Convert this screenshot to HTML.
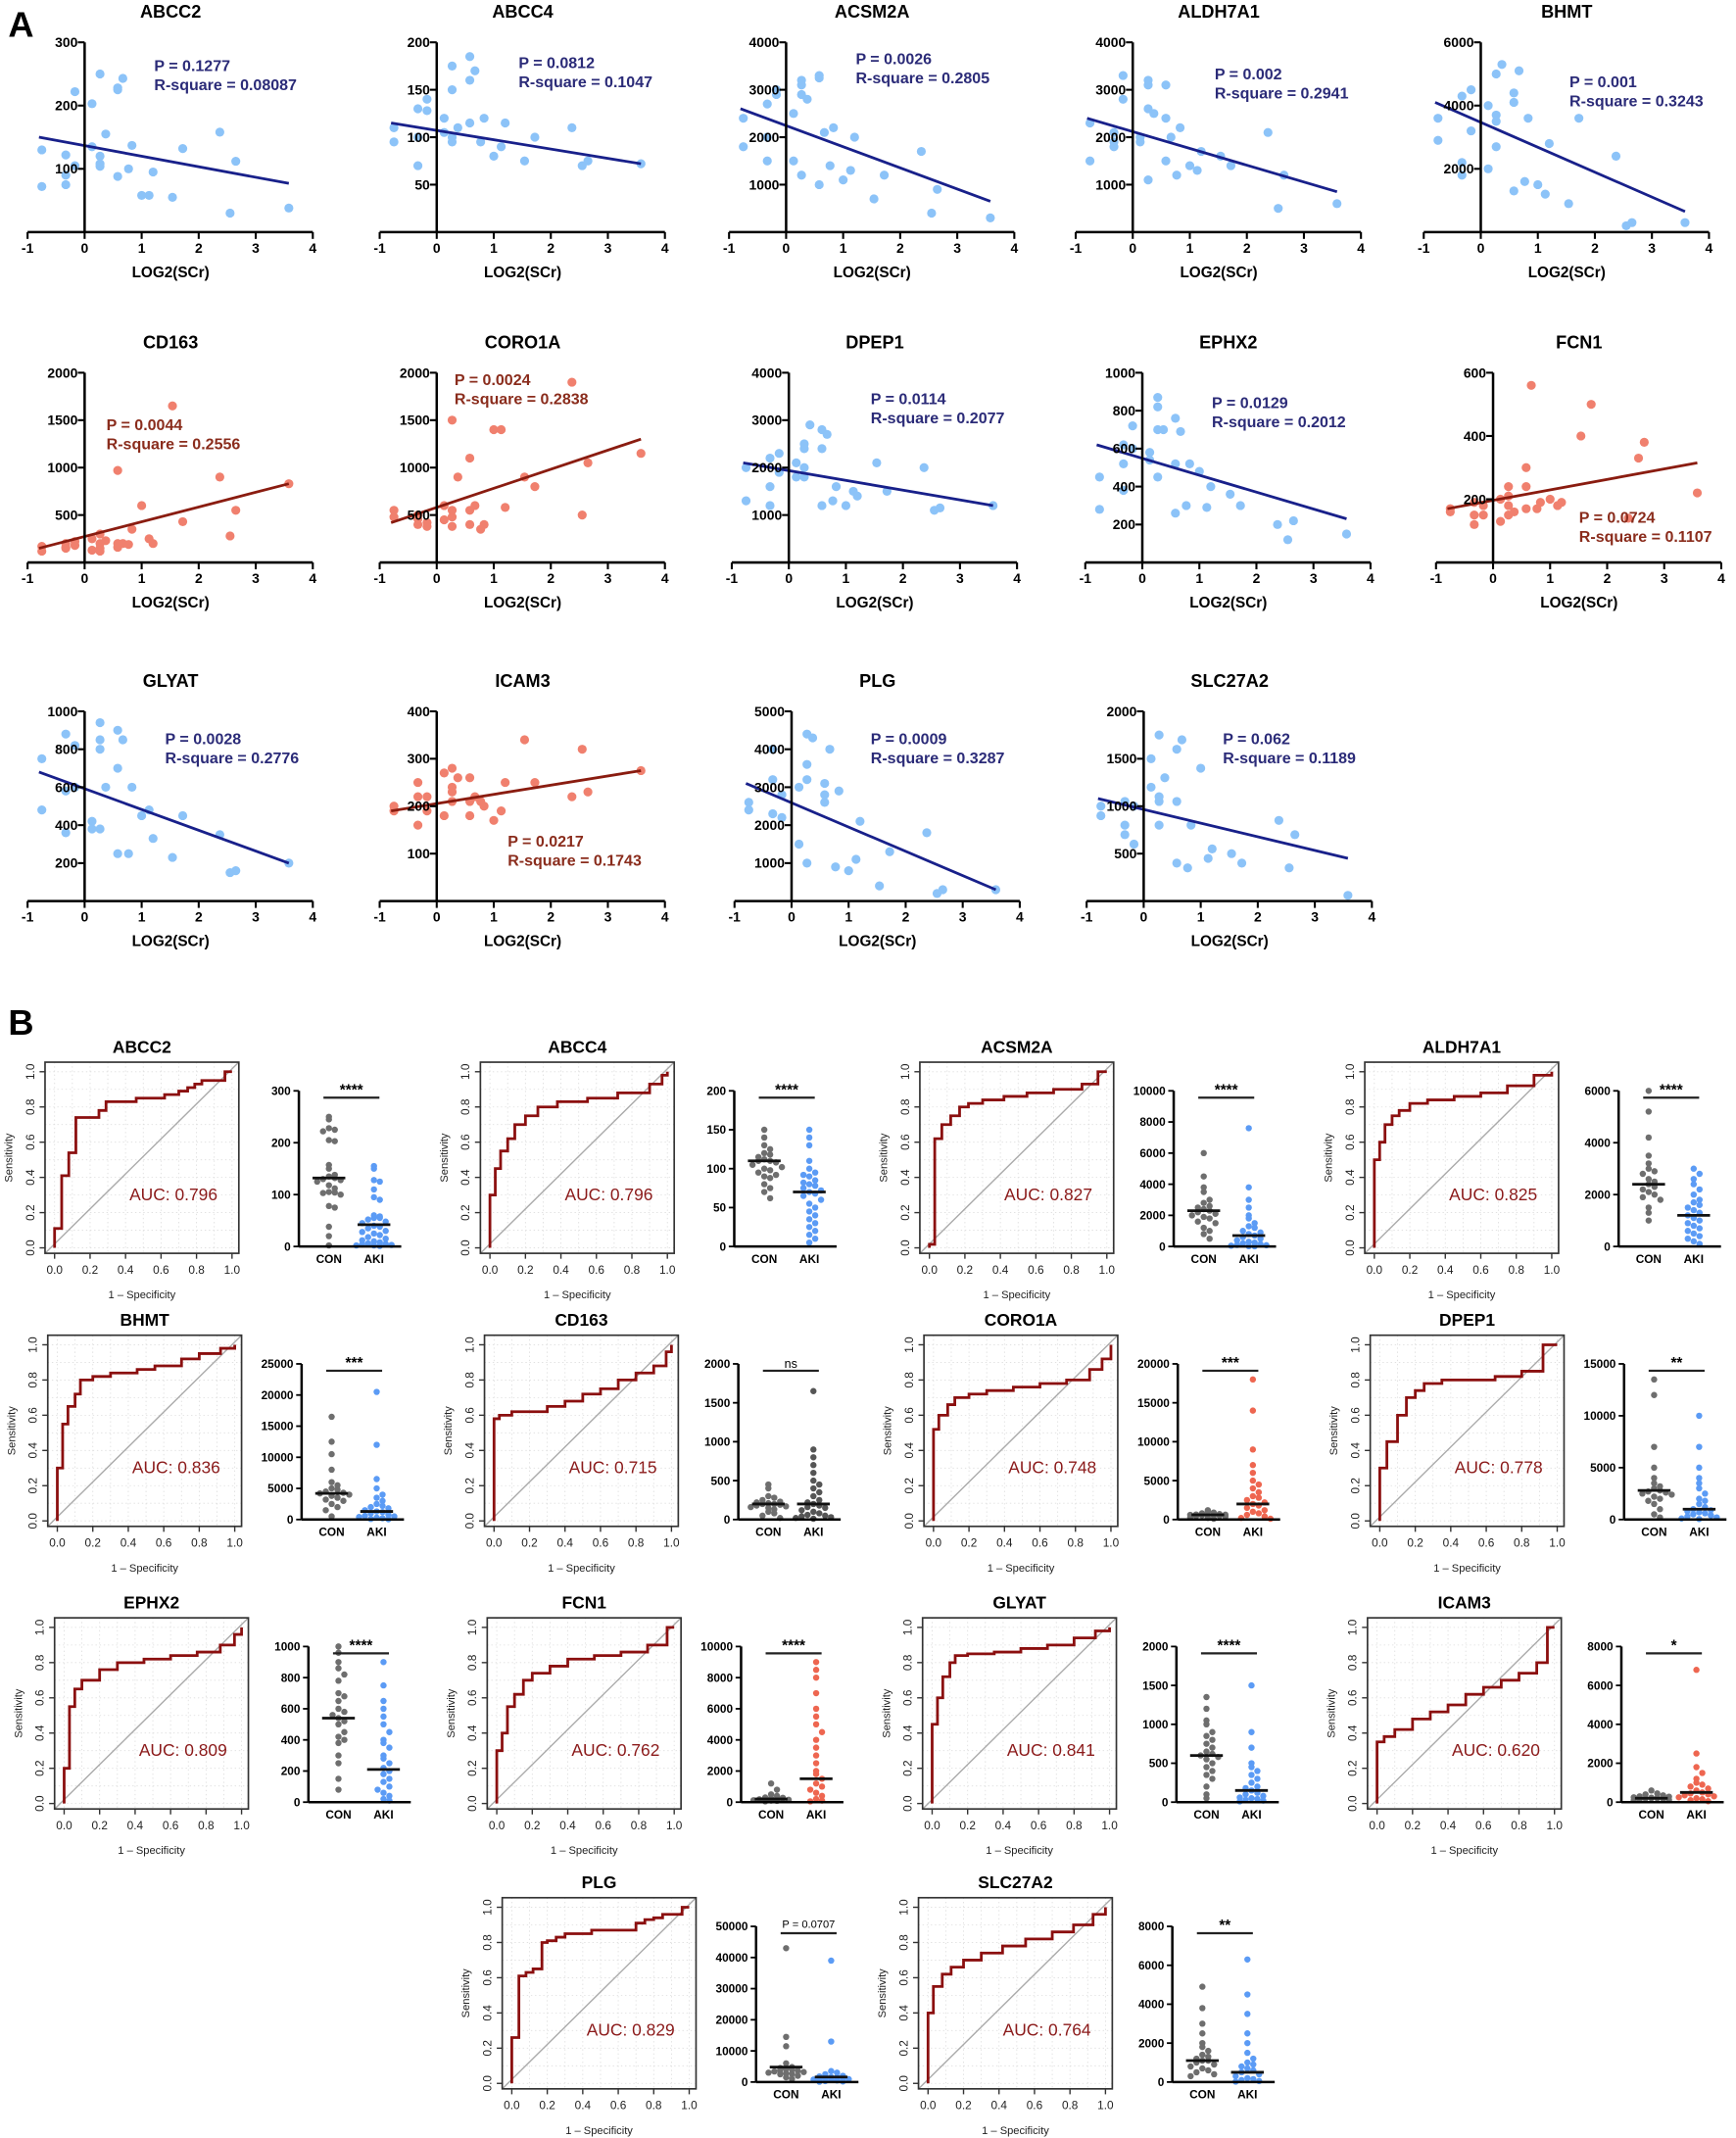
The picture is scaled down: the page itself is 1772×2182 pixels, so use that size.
<!DOCTYPE html>
<html><head><meta charset="utf-8">
<style>
html,body{margin:0;padding:0;background:#fff;}
svg{display:block;font-family:"Liberation Sans",Arial,sans-serif;}
</style></head>
<body>
<svg id="fig" width="1772" height="2182" viewBox="0 0 1272 1566" preserveAspectRatio="none" xmlns="http://www.w3.org/2000/svg"></svg>
<script>
// ---------- Panel A data ----------
const scGenes=["ABCC2","ABCC4","ACSM2A","ALDH7A1","BHMT","CD163","CORO1A","DPEP1","EPHX2","FCN1","GLYAT","ICAM3","PLG","SLC27A2"];
const scX=[-0.75,-0.75,-0.33,-0.33,-0.33,-0.17,-0.17,0.13,0.13,0.27,0.27,0.27,0.27,0.37,0.58,0.58,0.58,0.67,0.77,0.83,1.0,1.13,1.2,1.54,1.72,2.37,2.55,2.65,3.58];
const scYmax=[300,200,4000,4000,6000,2000,2000,4000,1000,600,1000,400,5000,2000];
const scTicks=[[100,200,300],[50,100,150,200],[1000,2000,3000,4000],[1000,2000,3000,4000],[2000,4000,6000],[500,1000,1500,2000],[500,1000,1500,2000],[1000,2000,3000,4000],[200,400,600,800,1000],[200,400,600],[200,400,600,800,1000],[100,200,300,400],[1000,2000,3000,4000,5000],[500,1000,1500,2000]];
const scXTicks=[-1,0,1,2,3,4];
const scY=[
[130,72,122,90,75,105,222,203,135,120,108,104,250,155,88,228,225,243,100,137,58,58,95,55,132,158,30,112,38],
[110,95,130,70,100,140,128,120,105,150,100,95,175,110,115,160,185,170,95,120,80,90,115,75,100,110,70,75,72],
[2400,1800,2000,1500,2700,3000,2900,1500,2500,3100,2900,1200,3200,2800,1000,3300,3250,2100,1400,2200,1100,1300,2000,700,1200,1700,400,900,300],
[2300,1500,2100,1800,1900,3300,2800,2000,1900,3100,2600,1100,3200,2500,1500,3100,2400,2000,1200,2200,1400,1300,1700,1600,1400,2100,500,1200,600],
[3600,2900,4300,2200,1800,4500,3200,4000,2000,3500,3700,2700,5000,5300,1300,4400,4100,5100,1600,3600,1500,1200,2800,900,3600,2400,200,300,300],
[170,120,150,200,160,220,180,250,130,200,150,120,300,230,200,970,160,200,190,350,600,250,200,1650,430,900,280,550,830],
[480,550,460,500,400,420,380,600,450,550,480,380,1500,900,550,1100,400,600,350,400,1400,1400,580,900,800,1900,500,1050,1150],
[1300,2000,2200,1600,1200,1900,2300,1800,2100,2400,2500,2000,1800,2900,2400,2800,1200,2700,1300,1600,1200,1500,1400,2100,1500,2000,1100,1150,1200],
[450,280,620,380,520,720,600,580,540,820,700,450,870,700,260,760,520,690,300,520,480,290,400,360,300,200,120,220,150],
[170,160,150,120,190,180,150,200,130,240,210,150,180,160,170,240,300,560,170,190,200,180,190,400,500,140,330,380,220],
[750,480,880,580,360,820,600,420,380,800,850,380,940,600,250,900,700,850,250,600,450,480,330,230,450,350,150,160,200],
[190,200,160,220,250,190,220,270,180,210,230,240,280,260,180,260,210,220,210,200,170,190,250,340,250,220,320,230,275],
[2600,2400,4000,3200,2300,2800,2200,3000,1500,3600,3200,1000,4400,4300,2600,2800,3100,4000,900,2900,800,1100,2100,400,1300,1800,200,300,300],
[1000,900,1050,800,700,600,1000,1500,1200,800,1050,1100,1750,1300,400,1600,1050,1700,350,800,1400,450,550,500,400,850,350,700,60]];
const scFitX=[-0.8,3.58];
const scFitStart=[150,115,2600,2400,4100,150,420,2100,620,170,680,190,3100,1080];
const scFitEnd=[77,72,650,850,650,830,1300,1200,230,315,200,275,300,450];
const scColor=["b","b","b","b","b","r","r","b","b","r","b","r","b","b"];
const scP=["0.1277","0.0812","0.0026","0.002","0.001","0.0044","0.0024","0.0114","0.0129","0.0724","0.0028","0.0217","0.0009","0.062"];
const scR=["0.08087","0.1047","0.2805","0.2941","0.3243","0.2556","0.2838","0.2077","0.2012","0.1107","0.2776","0.1743","0.3287","0.1189"];
// layout (not data)
const scAxisX=[62,320,576,830,1085,62,320,578,837,1094,62,320,580,838];
const scRowTop=[8,8,8,8,8,250,250,250,250,250,498,498,498,498];
const scTxt=[[51,44],[60,42],[51,39],[60,50],[65,56],[16,65],[13,32],[60,46],[51,49],[63,133],[59,47],[52,122],[58,47],[58,47]];

// ---------- Panel B data ----------
const rocGenes=["ABCC2","ABCC4","ACSM2A","ALDH7A1","BHMT","CD163","CORO1A","DPEP1","EPHX2","FCN1","GLYAT","ICAM3","PLG","SLC27A2"];
const rocAUC=["0.796","0.796","0.827","0.825","0.836","0.715","0.748","0.778","0.809","0.762","0.841","0.620","0.829","0.764"];
const rocFpr=[
[0,0.04,0.08,0.12,0.25,0.29,0.46,0.62,0.7,0.75,0.79,0.83,0.96,1],
[0,0.03,0.06,0.1,0.14,0.2,0.27,0.38,0.55,0.72,0.9,0.97,1],
[0,0.03,0.07,0.12,0.17,0.22,0.3,0.42,0.55,0.7,0.86,0.95,1],
[0,0.03,0.06,0.1,0.14,0.2,0.3,0.45,0.6,0.75,0.9,1],
[0,0.03,0.06,0.1,0.13,0.2,0.3,0.45,0.55,0.7,0.8,0.92,1],
[0,0.03,0.1,0.3,0.4,0.5,0.6,0.7,0.8,0.9,0.97,1],
[0,0.03,0.08,0.12,0.2,0.3,0.45,0.6,0.75,0.88,0.95,1],
[0,0.04,0.1,0.15,0.2,0.25,0.35,0.5,0.65,0.8,0.92,1],
[0,0.03,0.06,0.1,0.2,0.3,0.45,0.6,0.75,0.88,0.96,1],
[0,0.03,0.06,0.1,0.15,0.2,0.3,0.4,0.55,0.7,0.85,0.96,1],
[0,0.03,0.06,0.1,0.13,0.2,0.35,0.5,0.65,0.8,0.92,1],
[0,0.04,0.1,0.2,0.3,0.4,0.5,0.6,0.7,0.8,0.9,0.96,1],
[0,0.04,0.08,0.12,0.17,0.2,0.25,0.3,0.45,0.7,0.75,0.8,0.85,0.96,1],
[0,0.03,0.08,0.13,0.2,0.3,0.42,0.55,0.7,0.82,0.93,1]];
const rocTpr=[
[0.11,0.41,0.54,0.74,0.78,0.83,0.85,0.87,0.89,0.91,0.93,0.95,1,1],
[0.3,0.45,0.55,0.62,0.7,0.75,0.8,0.83,0.85,0.88,0.93,0.98,1],
[0.02,0.62,0.7,0.75,0.8,0.82,0.84,0.86,0.88,0.9,0.93,1,1],
[0.5,0.6,0.7,0.75,0.78,0.82,0.84,0.86,0.88,0.92,0.98,1],
[0.3,0.55,0.65,0.72,0.8,0.82,0.84,0.86,0.88,0.92,0.95,0.98,1],
[0.58,0.6,0.62,0.65,0.68,0.72,0.75,0.8,0.84,0.88,0.96,1],
[0.52,0.6,0.66,0.7,0.72,0.74,0.76,0.78,0.8,0.86,0.92,1],
[0.3,0.45,0.6,0.7,0.74,0.78,0.8,0.8,0.82,0.85,1,1],
[0.2,0.55,0.65,0.7,0.76,0.8,0.82,0.84,0.86,0.9,0.96,1],
[0.3,0.4,0.55,0.62,0.7,0.74,0.78,0.82,0.84,0.86,0.9,1,1],
[0.45,0.6,0.72,0.8,0.84,0.85,0.86,0.88,0.9,0.94,0.98,1],
[0.35,0.38,0.42,0.48,0.52,0.56,0.62,0.66,0.7,0.74,0.8,1,1],
[0.26,0.61,0.63,0.65,0.8,0.81,0.83,0.85,0.87,0.91,0.93,0.94,0.96,1,1],
[0.4,0.55,0.62,0.66,0.7,0.74,0.78,0.82,0.86,0.9,0.96,1]];
const dpYmax=[300,200,10000,6000,25000,2000,20000,15000,1000,10000,2000,8000,50000,8000];
const dpTicks=[[0,100,200,300],[0,50,100,150,200],[0,2000,4000,6000,8000,10000],[0,2000,4000,6000],[0,5000,10000,15000,20000,25000],[0,500,1000,1500,2000],[0,5000,10000,15000,20000],[0,5000,10000,15000],[0,200,400,600,800,1000],[0,2000,4000,6000,8000,10000],[0,500,1000,1500,2000],[0,2000,4000,6000,8000],[0,10000,20000,30000,40000,50000],[0,2000,4000,6000,8000]];
const dpSig=["****","****","****","****","***","ns","***","**","****","****","****","*","P = 0.0707","**"];
const dpConMed=[132,110,2300,2400,4200,200,600,2800,540,200,600,200,4800,1100];
const dpAkiMed=[42,70,700,1200,1300,200,2000,1000,210,1500,150,500,1600,500];
const dpCon=[
[250,245,228,225,222,205,203,157,150,138,135,132,130,128,125,118,112,105,104,103,100,78,75,38,20,2],
[150,140,130,125,120,118,115,112,110,110,108,105,102,100,98,95,92,90,88,80,75,70,62],
[6000,4500,3800,3500,3000,2800,2600,2500,2400,2300,2200,2100,2000,1900,1800,1600,1500,1200,1000,800,500],
[6000,5200,4200,3500,3200,3000,2900,2800,2600,2500,2400,2300,2200,2100,2000,1900,1800,1500,1300,1000],
[16500,12500,10500,8000,6000,5500,5000,4800,4500,4300,4200,4000,3800,3500,3200,3000,2500,2000,1500,500],
[450,400,300,280,250,230,220,210,200,200,190,180,170,160,150,130,100,80,50,20],
[1200,1000,900,800,700,650,620,600,580,560,550,500,450,400,300,200,100],
[13500,12000,7000,5000,4000,3500,3200,3000,2800,2700,2600,2500,2400,2200,2000,1800,1500,1000,500,200],
[1000,960,900,860,820,780,700,680,650,600,580,560,540,520,500,450,420,400,380,300,250,150,80],
[1200,800,500,400,300,280,250,220,200,200,180,150,120,100,80,50],
[1350,1200,1050,1000,900,850,800,750,700,650,620,600,580,550,500,450,400,350,300,200,100,50],
[600,450,400,350,300,280,250,230,220,200,200,190,180,150,120,100],
[43000,14500,11500,6000,4800,4500,4200,4000,3800,3600,3400,3200,3000,2800,2600,2500,2000,1500,1000],
[4900,3800,3000,2500,2000,1800,1600,1400,1300,1200,1100,1100,1000,900,800,700,600,500,400,300]];
const dpAki=[
[155,150,128,125,110,95,90,60,58,55,55,52,48,45,40,38,35,30,28,25,22,18,15,12,10,8,6,5,4,3,2,2,1],
[150,140,130,110,100,95,92,90,85,82,80,78,75,72,70,68,65,60,55,50,45,40,35,30,25,20,15,10,5],
[7600,3800,3000,2500,2000,1800,1500,1300,1200,1000,900,800,700,600,500,400,300,250,200,150,100,80,50,20,10],
[3000,2800,2600,2400,2200,2000,1800,1700,1600,1500,1400,1300,1200,1100,1000,900,800,700,600,500,400,300,200,100],
[20500,12000,6500,5000,4000,3500,3000,2500,2200,2000,1800,1500,1300,1200,1000,800,600,500,400,300,200,100,50],
[1650,900,800,700,600,500,450,400,350,300,250,220,200,180,160,150,120,100,80,60,50,40,30,20,10],
[18000,14000,9000,7000,6000,5000,4500,4000,3500,3000,2800,2500,2200,2000,1800,1500,1200,1000,800,600,400,200,100],
[10000,7000,5000,4000,3500,3000,2500,2000,1800,1500,1200,1000,900,800,700,600,500,400,300,200,100,50],
[900,750,650,600,550,500,450,400,380,350,300,280,250,220,200,180,150,130,100,80,60,40,20,10],
[9000,8500,8000,7000,6000,5500,5000,4500,4000,3500,3000,2500,2000,1800,1500,1200,1000,800,600,400,200,100,50],
[1500,900,700,500,450,400,350,300,250,200,180,150,120,100,80,60,50,40,30,20,10],
[6800,2500,1800,1500,1200,1000,900,800,700,600,500,450,400,350,300,250,200,150,100,50],
[39000,13000,3500,3000,2500,2000,1800,1600,1500,1300,1200,1000,900,800,700,500,300,200,100],
[6300,4500,3500,2500,2000,1500,1200,1000,900,800,700,600,500,400,300,200,150,100,50,20]];
const dpAkiColor=["#5b9bf5","#5b9bf5","#5b9bf5","#5b9bf5","#5b9bf5","#555","#ee6650","#5b9bf5","#5b9bf5","#ee6650","#5b9bf5","#ee6650","#5b9bf5","#5b9bf5"];
// layout (not data)
const bLeft=[33,352,674,1000,35,355,677,1004,40,357,676,1002,368,673];
const bTop=[778,778,778,778,978,978,978,978,1185,1185,1185,1185,1390,1390];

const NS="http://www.w3.org/2000/svg";
const svg=document.getElementById("fig");
function mk(tag,attrs,parent){const e=document.createElementNS(NS,tag);for(const k in attrs)e.setAttribute(k,attrs[k]);(parent||svg).appendChild(e);return e;}
function txt(s,attrs,parent){const e=mk("text",attrs,parent);e.textContent=s;return e;}

let e;
e=txt("A",{x:6,y:27,"font-size":26,"font-weight":"bold"});


e=txt("B",{x:6,y:758,"font-size":26,"font-weight":"bold"});



// ---------- Draw panel A ----------
scGenes.forEach((g,i)=>{
  const ax=scAxisX[i], top=scRowTop[i];
  const yTop=top+23, yBot=top+162;
  const sx=v=>ax+v*41.8;
  const sy=v=>yBot-(v/scYmax[i])*(yBot-yTop);
  const grp=mk("g",{});
  
  
  e=txt(g,{x:ax+63,y:top+5,"font-size":13,"font-weight":"bold","text-anchor":"middle"},grp);
  
  
  const ptCol=scColor[i]=="b"?"#8cc3f8":"#f0806e";
  const lnCol=scColor[i]=="b"?"#18208a":"#8a1c10";
  const tCol=scColor[i]=="b"?"#2b2b78":"#8a2c1c";
  scX.forEach((xv,j)=>{
    e=mk("circle",{cx:sx(xv),cy:sy(scY[i][j]),r:3.3,fill:ptCol},grp);
    
    
  });
  e=mk("line",{x1:sx(scFitX[0]),y1:sy(scFitStart[i]),x2:sx(scFitX[1]),y2:sy(scFitEnd[i]),stroke:lnCol,"stroke-width":2},grp);
  
  
  e=mk("line",{x1:ax,y1:yTop,x2:ax,y2:yBot,stroke:"#000","stroke-width":1.8},grp);
  
  
  e=mk("line",{x1:sx(-1),y1:yBot,x2:sx(4),y2:yBot,stroke:"#000","stroke-width":1.8},grp);
  
  
  scTicks[i].forEach(t=>{
    e=mk("line",{x1:ax-5,y1:sy(t),x2:ax,y2:sy(t),stroke:"#000","stroke-width":1.5},grp);
    
    
    e=txt(String(t),{x:ax-5,y:sy(t)+3.5,"font-size":10,"font-weight":"bold","text-anchor":"end"},grp);
    
    
  });
  scXTicks.forEach(t=>{
    e=mk("line",{x1:sx(t),y1:yBot,x2:sx(t),y2:yBot+5,stroke:"#000","stroke-width":1.5},grp);
    
    
    e=txt(String(t),{x:sx(t),y:yBot+15,"font-size":10,"font-weight":"bold","text-anchor":"middle"},grp);
    
    
  });
  e=txt("LOG2(SCr)",{x:ax+63,y:yBot+33,"font-size":11,"font-weight":"bold","text-anchor":"middle"},grp);
  
  
  e=txt("P = "+scP[i],{x:ax+scTxt[i][0],y:top+scTxt[i][1],"font-size":11.5,"font-weight":"bold",fill:tCol},grp);
  
  
  e=txt("R-square = "+scR[i],{x:ax+scTxt[i][0],y:top+scTxt[i][1]+14,"font-size":11.5,"font-weight":"bold",fill:tCol},grp);
  
  
});

// ---------- Draw panel B ----------
rocGenes.forEach((g,i)=>{
  const L=bLeft[i], T=bTop[i], R=L+142, B=T+140;
  const rx=v=>L+7+v*130, ry=v=>B-4-v*129;
  const grp=mk("g",{});
  
  
  e=txt(g,{x:(L+R)/2,y:T-7,"font-size":12.5,"font-weight":"bold","text-anchor":"middle"},grp);
  
  
  [0,0.1,0.2,0.3,0.4,0.5,0.6,0.7,0.8,0.9,1].forEach(t=>{
    e=mk("line",{x1:rx(t),y1:T,x2:rx(t),y2:B,stroke:"#ddd","stroke-width":0.6,"stroke-dasharray":"1,2"},grp);
    
    
    e=mk("line",{x1:L,y1:ry(t),x2:R,y2:ry(t),stroke:"#ddd","stroke-width":0.6,"stroke-dasharray":"1,2"},grp);
    
    
  });
  e=mk("line",{x1:L,y1:B,x2:R,y2:T,stroke:"#aaa","stroke-width":1},grp);
  
  
  e=mk("rect",{x:L,y:T,width:R-L,height:B-T,fill:"none",stroke:"#333","stroke-width":1.2},grp);
  
  
  let d="M"+rx(0)+","+ry(0), prev=0;
  rocFpr[i].forEach((f,k)=>{d+=" L"+rx(f)+","+ry(prev)+" L"+rx(f)+","+ry(rocTpr[i][k]);prev=rocTpr[i][k];});
  d+=" L"+rx(1)+","+ry(1);
  e=mk("path",{d:d,fill:"none",stroke:"#8b0f0f","stroke-width":2},grp);
  
  
  [0,0.2,0.4,0.6,0.8,1].forEach(t=>{
    e=mk("line",{x1:rx(t),y1:B,x2:rx(t),y2:B+4,stroke:"#333"},grp);
    
    
    e=txt(t.toFixed(1),{x:rx(t),y:B+15,"font-size":8.5,"text-anchor":"middle",fill:"#222"},grp);
    
    
    e=mk("line",{x1:L-4,y1:ry(t),x2:L,y2:ry(t),stroke:"#333"},grp);
    
    
    e=txt(t.toFixed(1),{x:L-8,y:ry(t),"font-size":8.5,"text-anchor":"middle",fill:"#222",transform:"rotate(-90 "+(L-8)+" "+ry(t)+")"},grp);
    
    
  });
  e=txt("Sensitivity",{x:L-24,y:(T+B)/2,"font-size":8,"text-anchor":"middle",fill:"#222",transform:"rotate(-90 "+(L-24)+" "+(T+B)/2+")"},grp);
  
  
  e=txt("1 – Specificity",{x:(L+R)/2,y:B+33,"font-size":8,"text-anchor":"middle",fill:"#222"},grp);
  
  
  e=txt("AUC: "+rocAUC[i],{x:rx(0.67),y:ry(0.27),"font-size":12.5,"text-anchor":"middle",fill:"#8b1a1a"},grp);
  
  

  // dot plot
  const dg=mk("g",{});
  
  
  const ax=L+186, yTop=T+21, yBot=B-5;
  const dy=v=>yBot-(v/dpYmax[i])*(yBot-yTop);
  const cx=[ax+22,ax+55];
  [dpCon[i],dpAki[i]].forEach((arr,gi)=>{
    const col=gi==0?"#6e6e6e":dpAkiColor[i];
    const cnt={};
    arr.forEach(v=>{
      const yy=dy(v); const b=Math.round(yy/6); cnt[b]=(cnt[b]||0)+1; const n=(cnt[b]-1)%7;
      const off=(n%2?1:-1)*Math.ceil(n/2)*4.3;
      e=mk("circle",{cx:cx[gi]+off,cy:yy,r:2.3,fill:col},dg);
      
      
    });
    const med=gi==0?dpConMed[i]:dpAkiMed[i];
    e=mk("line",{x1:cx[gi]-12,y1:dy(med),x2:cx[gi]+12,y2:dy(med),stroke:"#111","stroke-width":2},dg);
    
    
    e=txt(gi==0?"CON":"AKI",{x:cx[gi],y:yBot+12,"font-size":8.5,"font-weight":"bold","text-anchor":"middle"},dg);
    
    
  });
  e=mk("line",{x1:ax,y1:yTop,x2:ax,y2:yBot,stroke:"#000","stroke-width":1.8},dg);
  
  
  e=mk("line",{x1:ax,y1:yBot,x2:ax+75,y2:yBot,stroke:"#000","stroke-width":1.8},dg);
  
  
  dpTicks[i].forEach(t=>{
    e=mk("line",{x1:ax-4,y1:dy(t),x2:ax,y2:dy(t),stroke:"#000","stroke-width":1.3},dg);
    
    
    e=txt(String(t),{x:ax-6,y:dy(t)+3,"font-size":8.5,"font-weight":"bold","text-anchor":"end"},dg);
    
    
  });
  const sigY=yTop+5;
  e=mk("line",{x1:cx[0]-4,y1:sigY,x2:cx[1]+4,y2:sigY,stroke:"#222","stroke-width":1.6},dg);
  
  
  const isP=dpSig[i].startsWith("P");
  e=txt(dpSig[i],{x:(cx[0]+cx[1])/2,y:sigY-(isP?4:2),"font-size":isP?8:(dpSig[i]=="ns"?9:11),"font-weight":isP||dpSig[i]=="ns"?"normal":"bold","text-anchor":"middle"},dg);
  
  
});
</script>
</body></html>
